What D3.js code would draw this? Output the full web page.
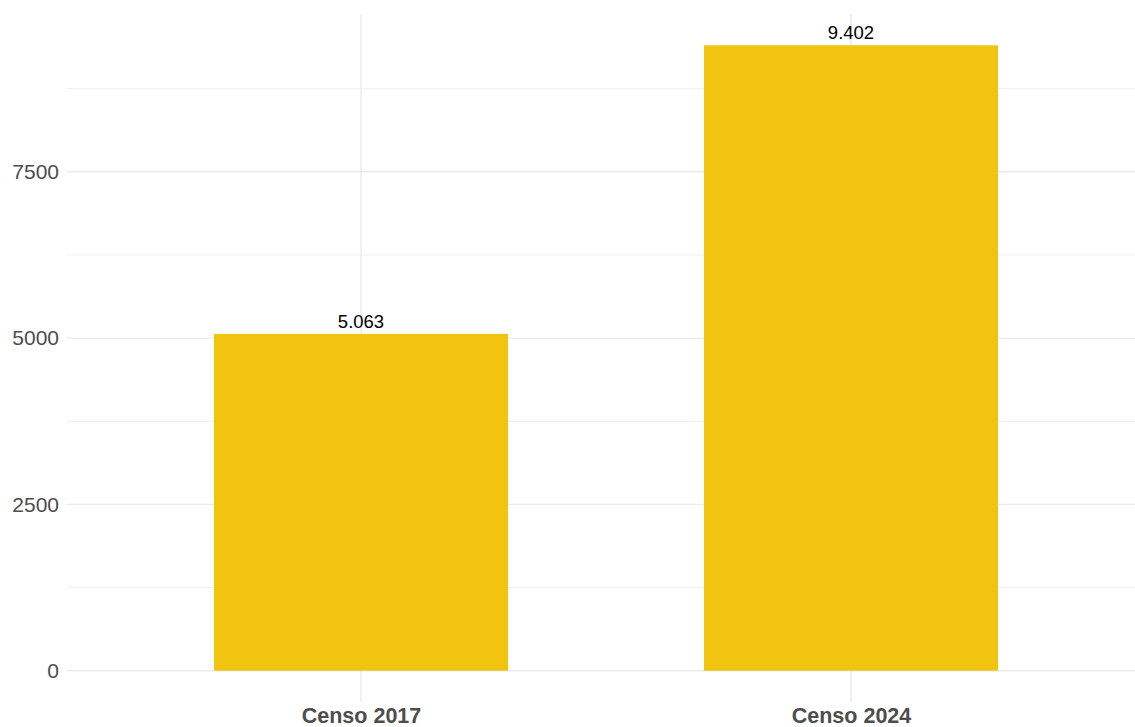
<!DOCTYPE html>
<html lang="es">
<head>
  <meta charset="UTF-8">
  <title>Censo 2017 vs Censo 2024</title>
  <script src="https://d3js.org/d3.v7.min.js"></script>
  <style>
    html, body { margin: 0; padding: 0; background: #fff; }
    svg { display: block; font-family: "Liberation Sans", Arial, sans-serif; }
  </style>
</head>
<body>
  <div id="chart"></div>
  <script>
    const categories = ["Censo 2017", "Censo 2024"];
    const values = [5063, 9402];
    const valueLabels = ["5.063", "9.402"];
    const yTicks = [0, 2500, 5000, 7500];
    const yMinorTicks = [1250, 3750, 6250, 8750];

    const width = 1135, height = 727;
    const panel = { left: 67, top: 14, bottom: 702 };
    const step = 490; // distance between category centres

    const svg = d3.select("#chart").append("svg")
      .attr("width", width)
      .attr("height", height);

    // ggplot-style expansion: 5% on the continuous axis, 0.6 units on the discrete axis
    const maxV = d3.max(values);
    const pad = maxV * 0.05;
    const y = d3.scaleLinear()
      .domain([-pad, maxV + pad])
      .range([panel.bottom, panel.top]);

    const x = d3.scalePoint()
      .domain(categories)
      .range([panel.left + 0.6 * step, panel.left + 1.6 * step]);
    const barW = step * 0.6;

    const grid = svg.append("g");
    grid.selectAll("line.minor")
      .data(yMinorTicks)
      .join("line")
      .attr("x1", panel.left).attr("x2", width + 20)
      .attr("y1", d => y(d)).attr("y2", d => y(d))
      .attr("stroke", "#ebebeb").attr("stroke-width", 0.8);
    grid.selectAll("line.major")
      .data(yTicks)
      .join("line")
      .attr("x1", panel.left).attr("x2", width + 20)
      .attr("y1", d => y(d)).attr("y2", d => y(d))
      .attr("stroke", "#ebebeb").attr("stroke-width", 1.4);
    grid.selectAll("line.vx")
      .data(categories)
      .join("line")
      .attr("x1", d => x(d)).attr("x2", d => x(d))
      .attr("y1", panel.top).attr("y2", panel.bottom)
      .attr("stroke", "#ebebeb").attr("stroke-width", 1.4);

    svg.append("g")
      .selectAll("rect")
      .data(values)
      .join("rect")
      .attr("x", (d, i) => x(categories[i]) - barW / 2)
      .attr("width", barW)
      .attr("y", d => y(d))
      .attr("height", d => y(0) - y(d))
      .attr("fill", "#f1c40f");

    svg.append("g")
      .selectAll("text")
      .data(values)
      .join("text")
      .attr("x", (d, i) => x(categories[i]))
      .attr("y", d => y(d) - 6)
      .attr("text-anchor", "middle")
      .attr("font-size", 18.5)
      .attr("fill", "#000")
      .text((d, i) => valueLabels[i]);

    // y axis labels
    const yAxis = d3.axisLeft(y).tickValues(yTicks).tickFormat(d3.format("d"))
      .tickSize(0).tickPadding(8);
    svg.append("g")
      .attr("transform", `translate(${panel.left},0)`)
      .call(yAxis)
      .call(g => g.select(".domain").remove())
      .selectAll("text")
      .attr("font-size", 21)
      .attr("font-family", "Liberation Sans, Arial, sans-serif")
      .attr("fill", "#4d4d4d");

    // x axis labels
    const xAxis = d3.axisBottom(x).tickSize(0).tickPadding(6);
    svg.append("g")
      .attr("transform", `translate(0,${panel.bottom})`)
      .call(xAxis)
      .call(g => g.select(".domain").remove())
      .selectAll("text")
      .attr("font-size", 21.5)
      .attr("font-weight", "bold")
      .attr("font-family", "Liberation Sans, Arial, sans-serif")
      .attr("fill", "#4d4d4d");
  </script>
</body>
</html>
